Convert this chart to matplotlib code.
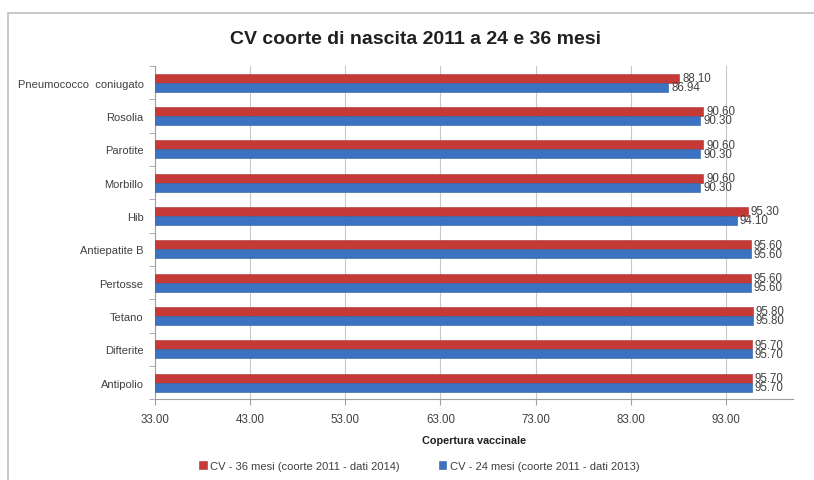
import numpy as np
import matplotlib
matplotlib.use("Agg")
import matplotlib.pyplot as plt
from matplotlib.patches import Rectangle

vaccini = ["Antipolio", "Difterite", "Tetano", "Pertosse", "Antiepatite B",
           "Hib", "Morbillo", "Parotite", "Rosolia", "Pneumococco  coniugato"]
cv_36 = [95.70, 95.70, 95.80, 95.60, 95.60, 95.30, 90.60, 90.60, 90.60, 88.10]
cv_24 = [95.70, 95.70, 95.80, 95.60, 95.60, 94.10, 90.30, 90.30, 90.30, 86.94]
xticks = [33, 43, 53, 63, 73, 83, 93]

red = "#C53A36"
blue = "#3B73C2"
plt.rcParams['font.family'] = ['Liberation Sans', 'DejaVu Sans']

fig = plt.figure(figsize=(8.14, 4.81), dpi=100)
ax = fig.add_axes([0.190, 0.168, 0.784, 0.693])

# outer chart frame (top and left edges visible)
fig.patches.append(Rectangle((8 / 814, -0.1), 1.2, 1 - 14 / 481 + 0.1,
                             transform=fig.transFigure, fill=False,
                             edgecolor="#BEBEBE", linewidth=1.2))

y = np.arange(len(vaccini))
h = 0.27
ax.barh(y + h / 2, cv_36, height=h, left=0, color=red, edgecolor="#A83230",
        linewidth=0.4, label="CV - 36 mesi (coorte 2011 - dati 2014)", zorder=3)
ax.barh(y - h / 2, cv_24, height=h, left=0, color=blue, edgecolor="#2E5E9E",
        linewidth=0.4, label="CV - 24 mesi (coorte 2011 - dati 2013)", zorder=3)

for i in range(len(vaccini)):
    ax.text(cv_36[i] + 0.3, y[i] + h / 2, f"{cv_36[i]:.2f}", fontsize=8.3,
            color="#404040", va="center", ha="left")
    ax.text(cv_24[i] + 0.3, y[i] - h / 2, f"{cv_24[i]:.2f}", fontsize=8.3,
            color="#404040", va="center", ha="left")

ax.set_xlim(33, 100)
ax.set_ylim(-0.5, len(vaccini) - 0.5)
ax.set_xticks(xticks)
ax.set_xticklabels([f"{t:.2f}" for t in xticks], fontsize=8.3, color="#404040")
ax.set_yticks(y)
ax.set_yticklabels(vaccini, fontsize=8, color="#404040")
ax.set_yticks(np.arange(len(vaccini) + 1) - 0.5, minor=True)
ax.tick_params(axis="y", which="major", length=0, pad=8)
ax.tick_params(axis="y", which="minor", length=4, color="#A0A0A0", direction="out")
ax.tick_params(axis="x", length=4, color="#A0A0A0", pad=6)
ax.grid(axis="x", color="#C8C8C8", linewidth=0.8, zorder=0)
ax.set_axisbelow(True)
for s in ["top", "right"]:
    ax.spines[s].set_visible(False)
ax.spines["left"].set_color("#A0A0A0")
ax.spines["bottom"].set_color("#A0A0A0")

ax.set_xlabel("Copertura vaccinale", fontsize=7.8, fontweight="bold",
              color="#202020", labelpad=7)
fig.text(0.511, 0.917, "CV coorte di nascita 2011 a 24 e 36 mesi", fontsize=14,
         fontweight="bold", ha="center", va="center", color="#202020")

leg = fig.legend(loc="center", bbox_to_anchor=(0.515, 0.029), ncol=2, frameon=False,
                 fontsize=8, handlelength=0.7, handleheight=0.7, handletextpad=0.3,
                 columnspacing=3.5)
for t in leg.get_texts():
    t.set_color("#404040")

fig.savefig("out.png", dpi=100)
